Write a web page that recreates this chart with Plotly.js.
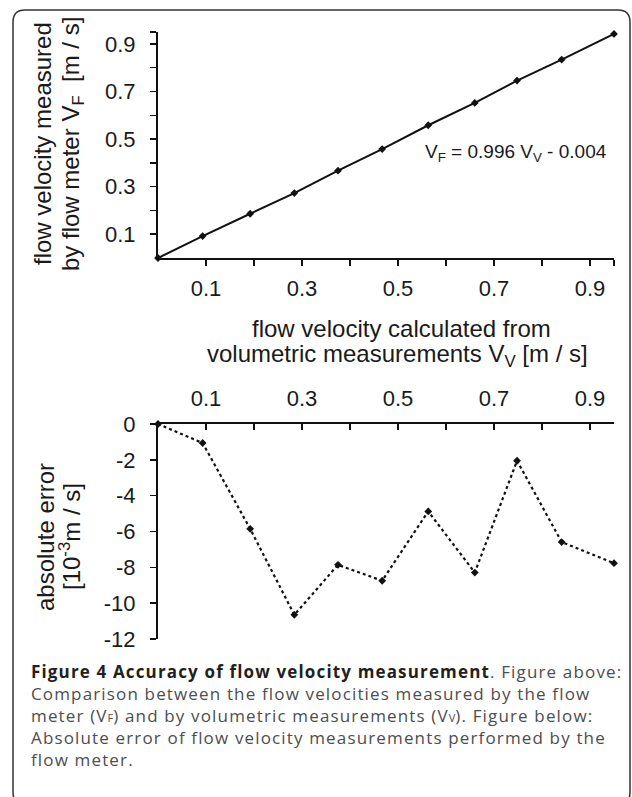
<!DOCTYPE html>
<html>
<head>
<meta charset="utf-8">
<script src="https://cdn.plot.ly/plotly-3.0.1.min.js"></script>
<style>
html,body{margin:0;padding:0;background:#fff;}
#chart{width:632px;height:797px;}
</style>
</head>
<body>
<div id="chart"></div>
<script>
// ---- data ----
const velocityVolumetric = [0, 0.093, 0.192, 0.284, 0.375, 0.467, 0.563, 0.660, 0.748, 0.841, 0.950];
const velocityFlowMeter  = [0, 0.092, 0.186, 0.273, 0.367, 0.458, 0.558, 0.652, 0.746, 0.834, 0.942];
const absoluteError      = [0, -1.06, -5.85, -10.65, -7.86, -8.75, -4.88, -8.29, -2.05, -6.59, -7.77];

const xTickVals = [0.1, 0.3, 0.5, 0.7, 0.9];
const xTickText = ['0.1', '0.3', '0.5', '0.7', '0.9'];
const xMinorVals = [0.2, 0.4, 0.6, 0.8, 0.95];
const yTopTickVals = [0.1, 0.3, 0.5, 0.7, 0.9];
const yTopTickText = ['0.1', '0.3', '0.5', '0.7', '0.9'];
const yTopMinorVals = [0.2, 0.4, 0.6, 0.8, 0.95];
const yErrTickVals = [0, -2, -4, -6, -8, -10, -12];
const yErrTickText = ['0', '-2', '-4', '-6', '-8', '-10', '-12'];

const equationText = 'V<sub>F</sub> = 0.996 V<sub>V</sub> - 0.004';
const LS = 'letter-spacing:1.15px';
const SUBSTYLE = 'font-size:11px';
const captionLines = [
  '<b><span style="color:#231f20;' + LS + '">Figure 4 Accuracy of flow velocity measurement</span></b><span style="' + LS + '">. Figure above:</span>',
  '<span style="' + LS + '">Comparison between the flow velocities measured by the flow</span>',
  '<span style="' + LS + '">meter (V</span><span style="' + SUBSTYLE + '">F</span><span style="' + LS + '">) and by volumetric measurements (V</span><span style="' + SUBSTYLE + '">V</span><span style="' + LS + '">). Figure below:</span>',
  '<span style="' + LS + '">Absolute error of flow velocity measurements performed by the</span>',
  '<span style="' + LS + '">flow meter.</span>'
];

// ---- layout helpers (pixel -> paper) ----
const W = 632, H = 797;
const px = x => x / W;
const py = y => 1 - y / H;

const AX_FONT = {family: 'Liberation Sans, Arial, sans-serif', size: 22, color: '#1a1a1a'};
const TITLE_FONT = {family: 'Liberation Sans, Arial, sans-serif', size: 24, color: '#1a1a1a'};
const CAPTION_FONT = {family: 'Open Sans, Noto Sans, sans-serif', size: 17, color: '#4d4d4f'};

const traces = [
  {
    x: velocityVolumetric, y: velocityFlowMeter, xaxis: 'x', yaxis: 'y',
    mode: 'lines+markers', type: 'scatter',
    line: {color: '#111', width: 2},
    marker: {symbol: 'diamond', size: 6, color: '#111'},
    cliponaxis: false, hoverinfo: 'skip'
  },
  {
    x: velocityVolumetric, y: absoluteError, xaxis: 'x2', yaxis: 'y2',
    mode: 'lines+markers', type: 'scatter',
    line: {color: '#111', width: 2.2, dash: 'dot'},
    marker: {symbol: 'diamond', size: 6, color: '#111'},
    cliponaxis: false, hoverinfo: 'skip'
  }
];

// frame path (rounded rectangle)
function roundedFrame(l, t, r, b, rad) {
  return 'M ' + px(l) + ',' + py(b - rad) +
    ' L ' + px(l) + ',' + py(t + rad) +
    ' Q ' + px(l) + ',' + py(t) + ' ' + px(l + rad) + ',' + py(t) +
    ' L ' + px(r - rad) + ',' + py(t) +
    ' Q ' + px(r) + ',' + py(t) + ' ' + px(r) + ',' + py(t + rad) +
    ' L ' + px(r) + ',' + py(b - rad) +
    ' Q ' + px(r) + ',' + py(b) + ' ' + px(r - rad) + ',' + py(b) +
    ' L ' + px(l + rad) + ',' + py(b) +
    ' Q ' + px(l) + ',' + py(b) + ' ' + px(l) + ',' + py(b - rad) + ' Z';
}

const xDomain = [px(158), px(614)];

const annotations = [
  // top plot y title (two lines)
  {xref: 'paper', yref: 'paper', x: px(42), y: py(144), xanchor: 'center', yanchor: 'middle',
   text: 'flow velocity measured', textangle: -90, showarrow: false, font: TITLE_FONT},
  {xref: 'paper', yref: 'paper', x: px(72), y: py(144), xanchor: 'center', yanchor: 'middle',
   text: 'by flow meter V<sub>F</sub>  [m / s]', textangle: -90, showarrow: false, font: TITLE_FONT},
  // top plot x title
  {xref: 'paper', yref: 'paper', x: px(402), y: py(328), xanchor: 'center', yanchor: 'middle',
   text: 'flow velocity calculated from', showarrow: false, font: TITLE_FONT},
  {xref: 'paper', yref: 'paper', x: px(397), y: py(355), xanchor: 'center', yanchor: 'middle',
   text: 'volumetric measurements V<sub>V</sub> [m / s]', showarrow: false, font: TITLE_FONT},
  // equation
  {xref: 'paper', yref: 'paper', x: px(609), y: py(153), xanchor: 'right', yanchor: 'middle',
   text: equationText, showarrow: false,
   font: {family: 'Liberation Sans Narrow, Arial Narrow, Liberation Sans, sans-serif', size: 19, color: '#1a1a1a'}},
  // bottom plot y title
  {xref: 'paper', yref: 'paper', x: px(45), y: py(537), xanchor: 'center', yanchor: 'middle',
   text: 'absolute error', textangle: -90, showarrow: false, font: TITLE_FONT},
  {xref: 'paper', yref: 'paper', x: px(70), y: py(537), xanchor: 'center', yanchor: 'middle',
   text: '[10<sup>-3</sup>m / s]', textangle: -90, showarrow: false, font: TITLE_FONT},
  // caption (single multi-line block)
  {xref: 'paper', yref: 'paper', x: px(29), y: py(715), xanchor: 'left', yanchor: 'middle', align: 'left',
   text: captionLines.join('<br>'), showarrow: false, font: CAPTION_FONT}
];

const layout = {
  width: W, height: H,
  margin: {l: 0, r: 0, t: 0, b: 0, pad: 0},
  paper_bgcolor: '#fff', plot_bgcolor: 'rgba(0,0,0,0)',
  showlegend: false,
  font: AX_FONT,
  xaxis: {
    domain: xDomain, range: [0, 0.95], anchor: 'y',
    showgrid: false, zeroline: false,
    showline: true, linecolor: '#111', linewidth: 2,
    ticks: 'outside', ticklen: 6, tickwidth: 1.5, tickcolor: '#111',
    tickmode: 'array', tickvals: xTickVals, ticktext: xTickText,
    ticklabelstandoff: 4,
    minor: {tickmode: 'array', tickvals: xMinorVals, ticks: 'outside', ticklen: 6, tickwidth: 1.5, tickcolor: '#111', showgrid: false},
    tickfont: AX_FONT, fixedrange: true
  },
  yaxis: {
    domain: [py(258), py(32)], range: [0, 0.95], anchor: 'x',
    showgrid: false, zeroline: false,
    showline: true, linecolor: '#111', linewidth: 2,
    ticks: 'outside', ticklen: 6, tickwidth: 1.5, tickcolor: '#111',
    tickmode: 'array', tickvals: yTopTickVals, ticktext: yTopTickText,
    ticklabelstandoff: 10,
    minor: {tickmode: 'array', tickvals: yTopMinorVals, ticks: 'outside', ticklen: 6, tickwidth: 1.5, tickcolor: '#111', showgrid: false},
    tickfont: AX_FONT, fixedrange: true
  },
  xaxis2: {
    domain: xDomain, range: [0, 0.95], anchor: 'y2', side: 'top',
    showgrid: false, zeroline: false,
    showline: true, linecolor: '#111', linewidth: 2,
    ticks: 'inside', ticklen: 6, tickwidth: 1.5, tickcolor: '#111',
    tickmode: 'array', tickvals: xTickVals, ticktext: xTickText,
    ticklabelstandoff: 7,
    minor: {tickmode: 'array', tickvals: xMinorVals, ticks: 'inside', ticklen: 6, tickwidth: 1.5, tickcolor: '#111', showgrid: false},
    tickfont: AX_FONT, fixedrange: true
  },
  yaxis2: {
    domain: [py(639), py(424)], range: [-12, 0], anchor: 'x2',
    showgrid: false, zeroline: false,
    showline: true, linecolor: '#111', linewidth: 2,
    ticks: 'outside', ticklen: 6, tickwidth: 1.5, tickcolor: '#111',
    tickmode: 'array', tickvals: yErrTickVals, ticktext: yErrTickText,
    ticklabelstandoff: 10,
    tickfont: AX_FONT, fixedrange: true
  },
  shapes: [
    {type: 'path', xref: 'paper', yref: 'paper', path: roundedFrame(13, 10, 630, 804, 12),
     line: {color: '#333', width: 1.5}, fillcolor: 'rgba(0,0,0,0)', layer: 'below'}
  ],
  annotations: annotations
};

Plotly.newPlot('chart', traces, layout, {staticPlot: true, displayModeBar: false});
</script>
</body>
</html>
